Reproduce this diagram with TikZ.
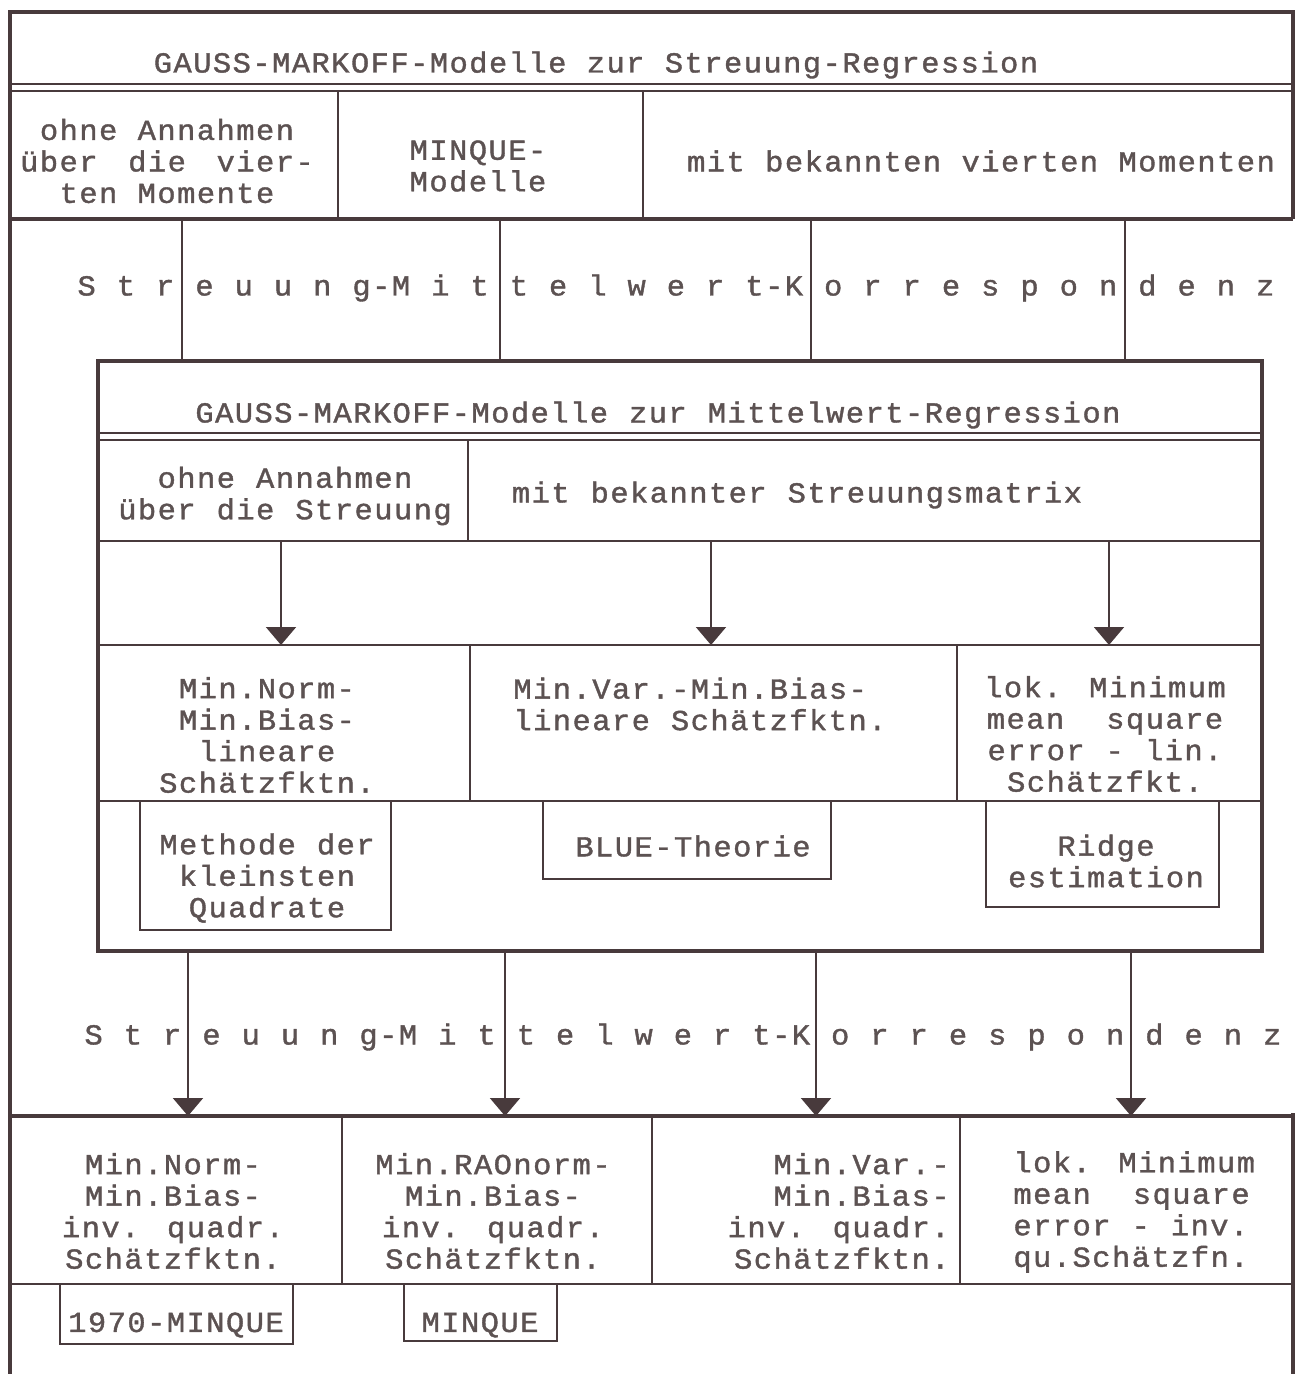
\documentclass[tikz,border=0pt]{standalone}
\usepackage{fontspec}
\newfontfamily\tw[FakeStretch=1.05,LetterSpace=5,FakeBold=1.3]{Liberation Mono}
\newfontfamily\twsp[FakeStretch=1.05,LetterSpace=5,FakeBold=1.3,WordSpace=1.032]{Liberation Mono}
\usetikzlibrary{arrows.meta}
\definecolor{linec}{RGB}{72,58,60}
\definecolor{textc}{RGB}{92,82,82}
\newlength\chw
\begin{document}
\settowidth{\chw}{\tw\fontsize{14.5}{15.75}\selectfont MMMMMMMMMM}
\setlength{\chw}{0.1\chw}
\begin{tikzpicture}[x=0.5pt,y=-0.5pt,
  txt/.style={font=\tw\fontsize{14.5}{15.75}\selectfont, text=textc, inner sep=0pt, align=center},
  sptxt/.style={txt, font=\twsp\fontsize{14.5}{15.75}\selectfont},
  thickline/.style={line width=2.2pt, draw=linec},
  thinline/.style={line width=1.1pt, draw=linec},
  boxline/.style={line width=0.9pt, draw=linec},
  arr/.style={line width=1pt, draw=linec, -{Triangle[width=15pt,length=9pt]}}]
\useasboundingbox (0,0) rectangle (1301,1374);
% ---------- top block ----------
\draw[thickline] (10,1374) -- (10,12) -- (1293,12) -- (1293,219);
\draw[thinline] (10,84) -- (1293,84);
\draw[thinline] (10,91) -- (1293,91);
\draw[thinline] (338,91) -- (338,219);
\draw[thinline] (643,91) -- (643,219);
\draw[thickline] (10,219) -- (1293,219);
\node[txt] (title1) at (596,65) {GAUSS-MARKOFF-Modelle zur Streuung-Regression};
\node[txt] (s1) at (167,161) {ohne Annahmen\\\makebox[15\chw][s]{über\hfill die\hfill vier-}\\ten Momente};
\node[txt, align=left] (s2) at (478,166) {MINQUE-\\Modelle};
\node[txt] (s3) at (981,161) {mit bekannten vierten Momenten};
% ---------- correspondence 1 ----------
\node[sptxt] (corr1) at (676,288) {S t r e u u n g-M i t t e l w e r t-K o r r e s p o n d e n z};
\foreach \i/\x in {1/182,2/500,3/811,4/1125}{
  \coordinate (u\i a) at (\x,219);
  \coordinate (u\i b) at (\x,361);
  \draw[thinline] (u\i a) -- (u\i b);
}
% ---------- inner box ----------
\draw[thickline] (98,361) rectangle (1262,951);
\draw[thinline] (98,433) -- (1262,433);
\draw[thinline] (98,440) -- (1262,440);
\node[txt] (title2) at (658,415) {GAUSS-MARKOFF-Modelle zur Mittelwert-Regression};
\draw[thinline] (468,440) -- (468,541);
\draw[thinline] (98,541) -- (1262,541);
\node[txt] (m1) at (285,496) {ohne Annahmen\\über die Streuung};
\node[txt] (m2) at (797,495) {mit bekannter Streuungsmatrix};
\foreach \i/\x in {1/281,2/711,3/1109}{
  \coordinate (p\i a) at (\x,541);
  \coordinate (p\i b) at (\x,645);
  \draw[arr] (p\i a) -- (p\i b);
}
\draw[thinline] (98,645) -- (1262,645);
\draw[thinline] (470,645) -- (470,801);
\draw[thinline] (957,645) -- (957,801);
\draw[thinline] (98,801) -- (1262,801);
\node[txt] (r1) at (267,735) {Min.Norm-\\Min.Bias-\\lineare\\Schätzfktn.};
\node[txt, align=left, anchor=west] (r2) at (513,704) {Min.Var.-Min.Bias-\\lineare Schätzfktn.};
\node[txt] (r3) at (1105,734) {lok. Minimum\\mean~~square\\error - lin.\\Schätzfkt.};
\draw[boxline] (140,801) rectangle (391,930);
\draw[boxline] (543,801) rectangle (831,879);
\draw[boxline] (986,801) rectangle (1219,907);
\node[txt] (b1) at (267,878) {Methode der\\kleinsten\\Quadrate};
\node[txt] (b2) at (693,846) {BLUE-Theorie};
\node[txt] (b3) at (1106,861) {Ridge\\estimation};
% ---------- correspondence 2 ----------
\node[sptxt] (corr2) at (683,1037) {S t r e u u n g-M i t t e l w e r t-K o r r e s p o n d e n z};
\foreach \i/\x in {1/188,2/505,3/816,4/1131}{
  \coordinate (q\i a) at (\x,951);
  \coordinate (q\i b) at (\x,1116);
  \draw[arr] (q\i a) -- (q\i b);
}
% ---------- bottom block ----------
\draw[thickline] (10,1116) -- (1293,1116);
\draw[thickline] (1293,1113) -- (1293,1374);
\draw[thinline] (342,1116) -- (342,1284);
\draw[thinline] (652,1116) -- (652,1284);
\draw[thinline] (960,1116) -- (960,1284);
\draw[thinline] (10,1284) -- (1293,1284);
\node[txt] (d1) at (173,1211) {Min.Norm-\\Min.Bias-\\inv. quadr.\\Schätzfktn.};
\node[txt] (d2) at (493,1211) {Min.RAOnorm-\\Min.Bias-\\inv. quadr.\\Schätzfktn.};
\node[txt, align=right, anchor=east] (d3) at (950,1211) {Min.Var.-\\Min.Bias-\\inv. quadr.\\Schätzfktn.};
\node[txt, align=left, anchor=west] (d4) at (1013,1212) {lok. Minimum\\mean~~square\\error - inv.\\qu.Schätzfn.};
\draw[boxline] (60,1284) rectangle (293,1344);
\draw[boxline] (404,1284) rectangle (557,1341);
\node[txt] (e1) at (176,1325) {1970-MINQUE};
\node[txt] (e2) at (480,1325) {MINQUE};
\end{tikzpicture}
\end{document}
